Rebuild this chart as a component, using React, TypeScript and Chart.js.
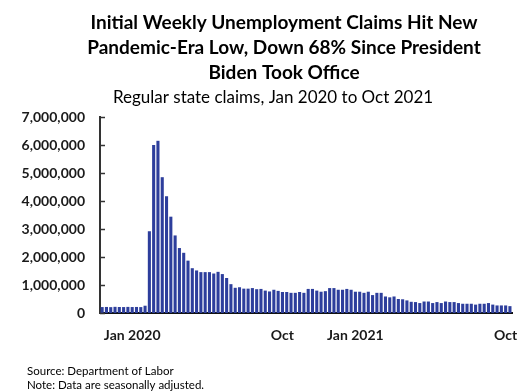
import { useEffect, useRef } from 'react';
import { Chart, registerables } from 'chart.js';

Chart.register(...registerables);

const titleLines = [
  'Initial Weekly Unemployment Claims Hit New',
  'Pandemic-Era Low, Down 68% Since President',
  'Biden Took Office',
];
const subtitle = 'Regular state claims, Jan 2020 to Oct 2021';
const footnotes = ['Source: Department of Labor', 'Note: Data are seasonally adjusted.'];

const firstWeek = '2020-01-04';

// Weekly initial claims, regular state programs (seasonally adjusted)
const claims = [
  212000, 216000, 209000, 220000, 214000, 212000, 218000, 213000, 216000, 211000,
  260000, 2920000, 6000000, 6150000, 4850000, 4170000, 3440000, 2770000, 2320000, 2150000,
  1870000, 1600000, 1520000, 1460000, 1460000, 1460000, 1410000, 1470000, 1390000, 1250000,
  1030000, 900000, 920000, 870000, 870000, 890000, 850000, 860000, 800000, 770000,
  830000, 790000, 750000, 750000, 720000, 720000, 750000, 720000, 860000, 860000,
  800000, 760000, 780000, 890000, 890000, 830000, 830000, 860000, 830000, 760000,
  760000, 720000, 760000, 640000, 720000, 720000, 590000, 560000, 590000, 500000,
  490000, 450000, 400000, 390000, 355000, 410000, 410000, 355000, 390000, 355000,
  410000, 390000, 390000, 355000, 330000, 330000, 330000, 300000, 330000, 330000,
  355000, 300000, 270000, 270000, 270000, 245000,
];

const yMax = 7000000;
const yStep = 1000000;

// [week index, label]
const xTickLabels: [number, string][] = [
  [7, 'Jan 2020'],
  [42, 'Oct'],
  [59, 'Jan 2021'],
  [94, 'Oct'],
];

const weeks: string[] = (() => {
  const out: string[] = [];
  const d = new Date(firstWeek + 'T00:00:00Z');
  for (let i = 0; i < claims.length; i++) {
    const w = new Date(d.getTime() + i * 7 * 86400000);
    out.push(w.toISOString().slice(0, 10));
  }
  return out;
})();

const FONT = 'Lato, "Open Sans", sans-serif';

const textPlugin = {
  id: 'figureTexts',
  afterDraw(chart: any) {
    const ctx = chart.ctx as CanvasRenderingContext2D;
    ctx.save();
    ctx.fillStyle = '#000';
    ctx.textAlign = 'center';
    ctx.textBaseline = 'middle';
    ctx.font = `bold 19px ${FONT}`;
    titleLines.forEach((t, i) => ctx.fillText(t, 284, 23 + i * 25));
    ctx.font = `17px ${FONT}`;
    ctx.fillText(subtitle, 273, 98);
    ctx.textAlign = 'left';
    ctx.font = `11.5px ${FONT}`;
    footnotes.forEach((t, i) => ctx.fillText(t, 27, 371 + i * 14));

    // inside tick marks on the value axis
    const ys = chart.scales.y;
    const left = chart.chartArea.left;
    ctx.strokeStyle = '#333';
    ctx.lineWidth = 1.5;
    ys.ticks.forEach((t: any) => {
      const py = Math.round(ys.getPixelForValue(t.value)) + 0.5;
      ctx.beginPath();
      ctx.moveTo(left, py);
      ctx.lineTo(left + 5, py);
      ctx.stroke();
    });
    ctx.restore();
  },
};

export default function App() {
  const ref = useRef<HTMLCanvasElement | null>(null);

  useEffect(() => {
    if (!ref.current) return;
    const labelMap = new Map<number, string>(xTickLabels);
    const chart = new Chart(ref.current, {
      type: 'bar',
      data: {
        labels: weeks,
        datasets: [
          {
            data: claims,
            backgroundColor: '#2d3e9c',
            barPercentage: 0.72,
            categoryPercentage: 1,
          },
        ],
      },
      options: {
        animation: false,
        responsive: false,
        maintainAspectRatio: false,
        events: [],
        layout: { padding: { top: 117, right: 11, left: 0, bottom: 0 } },
        plugins: {
          legend: { display: false },
          tooltip: { enabled: false },
          title: { display: false },
        },
        scales: {
          x: {
            type: 'category',
            grid: { display: false, drawTicks: false },
            border: { display: true, color: '#111', width: 2 },
            afterFit: (s: any) => {
              s.height = 78;
            },
            ticks: {
              autoSkip: false,
              maxRotation: 0,
              minRotation: 0,
              padding: 14,
              color: '#1a1a1a',
              font: { family: FONT, size: 14, weight: 'bold' },
              callback: (_v: any, i: number) => labelMap.get(i) ?? '',
            },
          },
          y: {
            min: 0,
            max: yMax,
            grid: { display: false, drawTicks: false },
            border: { display: true, color: '#333', width: 2 },
            afterFit: (s: any) => {
              s.width = 100;
            },
            ticks: {
              stepSize: yStep,
              padding: 15,
              color: '#1a1a1a',
              font: { family: FONT, size: 14, weight: 'bold' },
              callback: (v: any) => Number(v).toLocaleString('en-US'),
            },
          },
        },
      },
      plugins: [textPlugin],
    });
    return () => chart.destroy();
  }, []);

  return (
    <div style={{ position: 'absolute', left: 0, top: 0, width: 524, height: 391, background: '#fff' }}>
      <canvas ref={ref} width={524} height={391} style={{ width: 524, height: 391 }} />
    </div>
  );
}
